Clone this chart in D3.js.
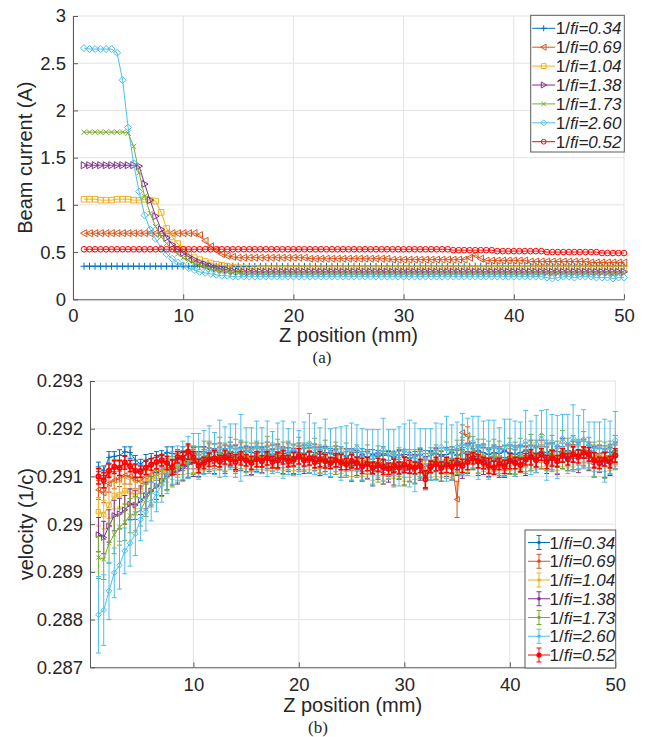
<!DOCTYPE html>
<html>
<head>
<meta charset="utf-8">
<script src="https://cdn.jsdelivr.net/npm/d3@7"></script>
<style>
body { margin: 0; background: #fff; }
svg text { font-family: "Liberation Sans", Arial, Helvetica, sans-serif; fill: #262626; }
</style>
</head>
<body>
<svg id="chart" width="645" height="737"></svg>
<script>
"use strict";

// == DATA ==
// legend order of the seven runs
var fiLabels = ["0.34", "0.69", "1.04", "1.38", "1.73", "2.60", "0.52"];

// z positions (mm), one sample every 0.5 mm
var zPos = d3.range(1, 50.25, 0.5);

// (a) beam current (A)
var current034 = [
	0.35,0.35,0.35,0.35,0.35,0.35,0.35,0.35,0.35,0.35,
	0.35,0.35,0.35,0.35,0.35,0.35,0.35,0.35,0.35,0.35,
	0.35,0.35,0.35,0.35,0.35,0.35,0.35,0.35,0.35,0.35,
	0.35,0.35,0.35,0.35,0.35,0.35,0.35,0.35,0.35,0.35,
	0.35,0.35,0.35,0.35,0.35,0.35,0.35,0.35,0.35,0.35,
	0.35,0.35,0.35,0.35,0.35,0.35,0.35,0.35,0.35,0.35,
	0.35,0.35,0.35,0.35,0.35,0.35,0.35,0.35,0.35,0.35,
	0.35,0.35,0.35,0.35,0.35,0.35,0.35,0.35,0.35,0.35,
	0.35,0.35,0.35,0.35,0.35,0.35,0.35,0.35,0.35,0.35,
	0.35,0.35,0.35,0.35,0.35,0.35,0.35,0.35,0.35];
var current069 = [
	0.70,0.70,0.70,0.70,0.70,0.70,0.70,0.70,0.70,0.70,
	0.70,0.70,0.70,0.70,0.70,0.70,0.70,0.70,0.70,0.70,
	0.70,0.68,0.62,0.56,0.52,0.48,0.46,0.45,0.44,0.44,
	0.44,0.44,0.44,0.44,0.44,0.44,0.44,0.44,0.44,0.44,
	0.44,0.43,0.43,0.43,0.43,0.43,0.43,0.43,0.43,0.43,
	0.43,0.43,0.43,0.43,0.43,0.43,0.42,0.42,0.42,0.42,
	0.42,0.42,0.42,0.42,0.42,0.42,0.42,0.42,0.42,0.42,
	0.44,0.47,0.43,0.41,0.41,0.41,0.41,0.41,0.41,0.41,
	0.41,0.40,0.40,0.40,0.40,0.40,0.40,0.40,0.40,0.40,
	0.40,0.40,0.39,0.39,0.39,0.39,0.39,0.39,0.39];
var current104 = [
	1.06,1.06,1.06,1.05,1.05,1.05,1.06,1.06,1.06,1.05,
	1.05,1.06,1.05,1.04,0.92,0.75,0.66,0.59,0.53,0.48,
	0.44,0.42,0.40,0.385,0.37,0.36,0.35,0.34,0.335,0.33,
	0.33,0.325,0.32,0.32,0.32,0.32,0.32,0.32,0.32,0.32,
	0.32,0.32,0.32,0.32,0.32,0.32,0.32,0.32,0.32,0.32,
	0.32,0.32,0.32,0.32,0.32,0.32,0.32,0.32,0.32,0.32,
	0.32,0.32,0.32,0.32,0.32,0.32,0.32,0.32,0.32,0.32,
	0.32,0.32,0.32,0.32,0.32,0.32,0.32,0.32,0.32,0.32,
	0.32,0.32,0.32,0.32,0.32,0.32,0.32,0.32,0.32,0.32,
	0.32,0.32,0.32,0.32,0.32,0.32,0.32,0.32,0.32];
var current138 = [
	1.42,1.42,1.42,1.42,1.42,1.42,1.42,1.42,1.42,1.42,
	1.41,1.22,1.05,0.88,0.74,0.65,0.58,0.53,0.49,0.45,
	0.42,0.39,0.37,0.35,0.33,0.32,0.31,0.30,0.295,0.29,
	0.29,0.29,0.29,0.29,0.29,0.29,0.29,0.29,0.29,0.29,
	0.29,0.29,0.29,0.29,0.29,0.29,0.29,0.29,0.29,0.29,
	0.29,0.29,0.29,0.29,0.29,0.29,0.29,0.29,0.29,0.29,
	0.29,0.29,0.29,0.29,0.29,0.29,0.29,0.29,0.29,0.29,
	0.29,0.29,0.29,0.29,0.29,0.29,0.29,0.29,0.29,0.29,
	0.29,0.29,0.29,0.29,0.29,0.29,0.29,0.29,0.29,0.29,
	0.29,0.29,0.29,0.29,0.29,0.29,0.29,0.29,0.29];
var current173 = [
	1.77,1.77,1.77,1.77,1.77,1.77,1.77,1.77,1.76,1.62,
	1.34,1.09,0.91,0.77,0.66,0.59,0.53,0.48,0.44,0.41,
	0.38,0.36,0.34,0.32,0.31,0.30,0.29,0.28,0.28,0.27,
	0.27,0.27,0.27,0.27,0.27,0.27,0.27,0.27,0.27,0.27,
	0.27,0.27,0.27,0.27,0.27,0.27,0.27,0.27,0.27,0.27,
	0.27,0.27,0.27,0.27,0.27,0.27,0.27,0.27,0.27,0.27,
	0.27,0.27,0.27,0.27,0.27,0.27,0.27,0.27,0.27,0.27,
	0.27,0.27,0.27,0.27,0.27,0.27,0.27,0.27,0.27,0.27,
	0.27,0.27,0.27,0.27,0.27,0.27,0.27,0.27,0.27,0.27,
	0.27,0.27,0.27,0.27,0.27,0.27,0.27,0.27,0.27];
var current260 = [
	2.66,2.65,2.65,2.65,2.65,2.65,2.61,2.32,1.82,1.44,
	1.14,0.89,0.74,0.64,0.54,0.48,0.43,0.39,0.36,0.33,
	0.31,0.29,0.28,0.27,0.26,0.25,0.25,0.24,0.24,0.24,
	0.24,0.24,0.24,0.24,0.24,0.24,0.24,0.24,0.24,0.24,
	0.24,0.24,0.24,0.24,0.24,0.24,0.24,0.24,0.24,0.24,
	0.24,0.24,0.24,0.24,0.24,0.24,0.24,0.24,0.24,0.24,
	0.24,0.24,0.24,0.24,0.24,0.24,0.24,0.24,0.24,0.24,
	0.24,0.24,0.24,0.24,0.24,0.24,0.24,0.24,0.24,0.24,
	0.24,0.24,0.24,0.24,0.23,0.22,0.23,0.24,0.24,0.23,
	0.24,0.24,0.24,0.23,0.23,0.23,0.22,0.23,0.23];
var current052 = [
	0.53,0.53,0.53,0.53,0.53,0.53,0.53,0.53,0.53,0.53,
	0.53,0.53,0.53,0.53,0.53,0.53,0.53,0.53,0.53,0.53,
	0.53,0.53,0.53,0.53,0.53,0.53,0.53,0.53,0.53,0.53,
	0.53,0.53,0.53,0.53,0.53,0.53,0.53,0.53,0.53,0.53,
	0.53,0.53,0.53,0.53,0.53,0.53,0.53,0.53,0.53,0.53,
	0.53,0.53,0.53,0.53,0.53,0.53,0.53,0.53,0.53,0.53,
	0.53,0.53,0.53,0.53,0.53,0.53,0.53,0.52,0.52,0.52,
	0.52,0.52,0.52,0.52,0.52,0.51,0.51,0.51,0.51,0.51,
	0.51,0.51,0.51,0.51,0.50,0.50,0.50,0.50,0.50,0.50,
	0.50,0.50,0.50,0.50,0.49,0.49,0.49,0.49,0.49];

// (b) velocity (1/c) and its error bars
var vel034 = [
	0.29120,0.29112,0.29140,0.29142,0.29144,0.29152,0.29150,0.29134,0.29126,0.29134,
	0.29138,0.29140,0.29144,0.29150,0.29148,0.29146,0.29150,0.29154,0.29148,0.29150,
	0.29152,0.29148,0.29154,0.29150,0.29146,0.29152,0.29150,0.29148,0.29154,0.29150,
	0.29148,0.29152,0.29150,0.29146,0.29152,0.29148,0.29150,0.29154,0.29150,0.29148,
	0.29152,0.29150,0.29146,0.29150,0.29148,0.29144,0.29148,0.29142,0.29146,0.29140,
	0.29144,0.29140,0.29146,0.29142,0.29148,0.29144,0.29140,0.29146,0.29142,0.29138,
	0.29142,0.29146,0.29140,0.29144,0.29148,0.29142,0.29146,0.29150,0.29144,0.29148,
	0.29152,0.29148,0.29154,0.29150,0.29146,0.29150,0.29148,0.29152,0.29150,0.29146,
	0.29150,0.29154,0.29150,0.29148,0.29152,0.29150,0.29156,0.29152,0.29150,0.29154,
	0.29152,0.29156,0.29150,0.29154,0.29150,0.29148,0.29152,0.29150,0.29154];
var vel069 = [
	0.29072,0.29065,0.29085,0.29092,0.29095,0.29102,0.29100,0.29092,0.29090,0.29100,
	0.29104,0.29110,0.29112,0.29118,0.29120,0.29122,0.29128,0.29134,0.29136,0.29130,
	0.29138,0.29142,0.29136,0.29144,0.29140,0.29146,0.29138,0.29144,0.29140,0.29136,
	0.29142,0.29138,0.29144,0.29140,0.29146,0.29138,0.29142,0.29136,0.29144,0.29140,
	0.29138,0.29144,0.29136,0.29140,0.29134,0.29138,0.29132,0.29136,0.29130,0.29134,
	0.29128,0.29132,0.29126,0.29130,0.29128,0.29122,0.29128,0.29124,0.29130,0.29126,
	0.29124,0.29130,0.29118,0.29128,0.29132,0.29126,0.29136,0.29130,0.29052,0.29192,
	0.29186,0.29150,0.29146,0.29140,0.29136,0.29142,0.29138,0.29134,0.29140,0.29136,
	0.29142,0.29138,0.29146,0.29140,0.29148,0.29142,0.29146,0.29140,0.29150,0.29144,
	0.29148,0.29144,0.29152,0.29146,0.29140,0.29144,0.29138,0.29142,0.29148];
var vel104 = [
	0.29026,0.29020,0.29040,0.29060,0.29062,0.29070,0.29068,0.29060,0.29072,0.29088,
	0.29094,0.29100,0.29108,0.29112,0.29116,0.29122,0.29126,0.29130,0.29134,0.29128,
	0.29136,0.29140,0.29134,0.29142,0.29138,0.29144,0.29136,0.29142,0.29138,0.29134,
	0.29140,0.29136,0.29142,0.29138,0.29144,0.29136,0.29140,0.29134,0.29142,0.29138,
	0.29136,0.29142,0.29134,0.29138,0.29130,0.29136,0.29128,0.29134,0.29126,0.29132,
	0.29124,0.29130,0.29120,0.29126,0.29118,0.29124,0.29120,0.29126,0.29118,0.29122,
	0.29120,0.29126,0.29104,0.29124,0.29128,0.29122,0.29130,0.29126,0.29132,0.29128,
	0.29136,0.29140,0.29134,0.29138,0.29132,0.29138,0.29134,0.29130,0.29138,0.29134,
	0.29140,0.29136,0.29144,0.29138,0.29146,0.29140,0.29144,0.29138,0.29148,0.29142,
	0.29146,0.29142,0.29150,0.29144,0.29138,0.29142,0.29136,0.29140,0.29146];
var vel138 = [
	0.28978,0.28972,0.28996,0.29018,0.29022,0.29030,0.29042,0.29040,0.29050,0.29060,
	0.29070,0.29080,0.29090,0.29100,0.29108,0.29112,0.29118,0.29126,0.29130,0.29126,
	0.29134,0.29140,0.29132,0.29142,0.29136,0.29146,0.29138,0.29142,0.29136,0.29132,
	0.29140,0.29134,0.29144,0.29136,0.29142,0.29134,0.29140,0.29132,0.29142,0.29136,
	0.29134,0.29140,0.29132,0.29136,0.29126,0.29134,0.29124,0.29130,0.29120,0.29128,
	0.29118,0.29126,0.29112,0.29122,0.29114,0.29120,0.29110,0.29124,0.29114,0.29118,
	0.29116,0.29124,0.29108,0.29122,0.29126,0.29118,0.29130,0.29124,0.29130,0.29126,
	0.29138,0.29142,0.29132,0.29136,0.29128,0.29136,0.29130,0.29126,0.29136,0.29132,
	0.29138,0.29132,0.29144,0.29136,0.29146,0.29138,0.29142,0.29134,0.29148,0.29140,
	0.29144,0.29140,0.29150,0.29142,0.29130,0.29136,0.29128,0.29134,0.29144];
var vel173 = [
	0.28930,0.28926,0.28960,0.28978,0.28994,0.29004,0.29018,0.29022,0.29030,0.29050,
	0.29068,0.29080,0.29090,0.29100,0.29110,0.29118,0.29122,0.29130,0.29134,0.29130,
	0.29140,0.29144,0.29136,0.29148,0.29140,0.29150,0.29142,0.29146,0.29140,0.29136,
	0.29144,0.29138,0.29148,0.29140,0.29146,0.29138,0.29144,0.29136,0.29146,0.29140,
	0.29138,0.29146,0.29136,0.29140,0.29130,0.29138,0.29128,0.29134,0.29124,0.29132,
	0.29122,0.29130,0.29116,0.29126,0.29118,0.29124,0.29114,0.29128,0.29118,0.29122,
	0.29120,0.29128,0.29110,0.29126,0.29130,0.29122,0.29134,0.29128,0.29140,0.29150,
	0.29146,0.29150,0.29142,0.29146,0.29136,0.29144,0.29138,0.29134,0.29142,0.29138,
	0.29144,0.29138,0.29150,0.29142,0.29152,0.29144,0.29148,0.29140,0.29156,0.29146,
	0.29150,0.29146,0.29156,0.29148,0.29136,0.29142,0.29134,0.29140,0.29150];
var vel260 = [
	0.28810,0.28820,0.28860,0.28898,0.28914,0.28944,0.28960,0.28980,0.29010,0.29026,
	0.29047,0.29064,0.29082,0.29100,0.29118,0.29128,0.29134,0.29140,0.29148,0.29142,
	0.29150,0.29156,0.29148,0.29158,0.29152,0.29162,0.29154,0.29160,0.29152,0.29156,
	0.29162,0.29154,0.29158,0.29150,0.29160,0.29156,0.29152,0.29158,0.29150,0.29164,
	0.29170,0.29158,0.29154,0.29162,0.29150,0.29156,0.29148,0.29154,0.29152,0.29160,
	0.29146,0.29152,0.29140,0.29148,0.29156,0.29146,0.29150,0.29142,0.29154,0.29148,
	0.29140,0.29150,0.29136,0.29146,0.29152,0.29162,0.29158,0.29150,0.29162,0.29168,
	0.29162,0.29172,0.29160,0.29166,0.29156,0.29162,0.29154,0.29160,0.29168,0.29158,
	0.29164,0.29174,0.29160,0.29168,0.29186,0.29166,0.29172,0.29162,0.29180,0.29168,
	0.29180,0.29172,0.29178,0.29166,0.29156,0.29162,0.29154,0.29160,0.29176];
var vel052 = [
	0.29100,0.29092,0.29112,0.29120,0.29118,0.29129,0.29122,0.29112,0.29110,0.29118,
	0.29125,0.29130,0.29134,0.29128,0.29119,0.29140,0.29138,0.29152,0.29140,0.29122,
	0.29128,0.29135,0.29138,0.29132,0.29140,0.29136,0.29130,0.29138,0.29134,0.29128,
	0.29136,0.29132,0.29138,0.29130,0.29134,0.29140,0.29132,0.29136,0.29142,0.29134,
	0.29138,0.29130,0.29136,0.29132,0.29128,0.29134,0.29130,0.29126,0.29132,0.29128,
	0.29122,0.29126,0.29118,0.29124,0.29120,0.29116,0.29122,0.29118,0.29124,0.29120,
	0.29118,0.29122,0.29094,0.29120,0.29126,0.29118,0.29124,0.29120,0.29126,0.29122,
	0.29130,0.29138,0.29132,0.29128,0.29122,0.29118,0.29126,0.29120,0.29132,0.29128,
	0.29124,0.29136,0.29140,0.29134,0.29146,0.29130,0.29138,0.29132,0.29144,0.29136,
	0.29146,0.29142,0.29150,0.29146,0.29134,0.29128,0.29136,0.29130,0.29144];

var err034 = [
	0.00010,0.00010,0.00012,0.00010,0.00012,0.00010,0.00012,0.00010,0.00010,0.00012,
	0.00010,0.00012,0.00010,0.00012,0.00014,0.00010,0.00012,0.00010,0.00014,0.00012,
	0.00010,0.00012,0.00014,0.00010,0.00012,0.00010,0.00014,0.00012,0.00010,0.00012,
	0.00014,0.00010,0.00012,0.00010,0.00014,0.00012,0.00010,0.00012,0.00014,0.00010,
	0.00012,0.00010,0.00014,0.00012,0.00010,0.00012,0.00014,0.00010,0.00012,0.00010,
	0.00014,0.00012,0.00010,0.00012,0.00014,0.00010,0.00012,0.00010,0.00014,0.00012,
	0.00010,0.00012,0.00014,0.00010,0.00012,0.00010,0.00014,0.00012,0.00010,0.00012,
	0.00014,0.00010,0.00012,0.00010,0.00014,0.00012,0.00010,0.00012,0.00014,0.00010,
	0.00012,0.00010,0.00014,0.00012,0.00010,0.00012,0.00014,0.00010,0.00012,0.00010,
	0.00014,0.00012,0.00010,0.00012,0.00014,0.00010,0.00012,0.00010,0.00012];
var err069 = [
	0.00020,0.00020,0.00018,0.00018,0.00016,0.00018,0.00016,0.00018,0.00016,0.00016,
	0.00016,0.00018,0.00016,0.00018,0.00016,0.00018,0.00016,0.00018,0.00020,0.00016,
	0.00018,0.00016,0.00020,0.00018,0.00016,0.00018,0.00020,0.00016,0.00018,0.00020,
	0.00016,0.00018,0.00020,0.00018,0.00016,0.00020,0.00018,0.00016,0.00018,0.00020,
	0.00016,0.00018,0.00020,0.00018,0.00016,0.00020,0.00018,0.00016,0.00018,0.00020,
	0.00018,0.00020,0.00022,0.00018,0.00020,0.00022,0.00018,0.00020,0.00022,0.00018,
	0.00020,0.00022,0.00018,0.00020,0.00022,0.00018,0.00020,0.00022,0.00038,0.00016,
	0.00018,0.00020,0.00018,0.00020,0.00022,0.00018,0.00020,0.00022,0.00018,0.00020,
	0.00022,0.00018,0.00020,0.00022,0.00018,0.00020,0.00022,0.00018,0.00020,0.00022,
	0.00018,0.00020,0.00022,0.00018,0.00020,0.00022,0.00018,0.00020,0.00022];
var err104 = [
	0.00030,0.00030,0.00028,0.00028,0.00026,0.00028,0.00026,0.00028,0.00026,0.00024,
	0.00026,0.00024,0.00026,0.00024,0.00022,0.00024,0.00022,0.00024,0.00026,0.00022,
	0.00024,0.00026,0.00022,0.00024,0.00026,0.00022,0.00024,0.00026,0.00022,0.00024,
	0.00026,0.00022,0.00024,0.00026,0.00022,0.00024,0.00026,0.00022,0.00024,0.00026,
	0.00022,0.00024,0.00026,0.00022,0.00024,0.00026,0.00022,0.00024,0.00026,0.00022,
	0.00024,0.00026,0.00028,0.00024,0.00026,0.00028,0.00024,0.00026,0.00028,0.00024,
	0.00026,0.00028,0.00030,0.00026,0.00028,0.00024,0.00026,0.00028,0.00024,0.00026,
	0.00028,0.00024,0.00026,0.00028,0.00024,0.00026,0.00028,0.00024,0.00026,0.00028,
	0.00024,0.00026,0.00028,0.00024,0.00026,0.00028,0.00024,0.00026,0.00028,0.00024,
	0.00026,0.00028,0.00024,0.00026,0.00028,0.00024,0.00026,0.00028,0.00024];
var err138 = [
	0.00036,0.00034,0.00034,0.00032,0.00032,0.00030,0.00032,0.00030,0.00030,0.00028,
	0.00030,0.00028,0.00030,0.00028,0.00026,0.00028,0.00026,0.00028,0.00030,0.00026,
	0.00028,0.00030,0.00026,0.00028,0.00030,0.00026,0.00028,0.00030,0.00026,0.00028,
	0.00030,0.00026,0.00028,0.00030,0.00026,0.00028,0.00030,0.00026,0.00028,0.00030,
	0.00026,0.00028,0.00030,0.00026,0.00028,0.00030,0.00026,0.00028,0.00030,0.00026,
	0.00028,0.00030,0.00032,0.00028,0.00030,0.00032,0.00028,0.00030,0.00032,0.00028,
	0.00030,0.00032,0.00034,0.00030,0.00032,0.00028,0.00030,0.00032,0.00028,0.00030,
	0.00032,0.00028,0.00030,0.00032,0.00028,0.00030,0.00032,0.00028,0.00030,0.00032,
	0.00028,0.00030,0.00032,0.00028,0.00030,0.00032,0.00028,0.00030,0.00032,0.00028,
	0.00030,0.00032,0.00028,0.00030,0.00032,0.00028,0.00030,0.00032,0.00028];
var err173 = [
	0.00044,0.00042,0.00042,0.00040,0.00038,0.00038,0.00036,0.00036,0.00034,0.00034,
	0.00032,0.00034,0.00032,0.00030,0.00032,0.00030,0.00032,0.00034,0.00030,0.00032,
	0.00034,0.00030,0.00032,0.00034,0.00030,0.00032,0.00036,0.00030,0.00032,0.00034,
	0.00030,0.00032,0.00036,0.00030,0.00032,0.00034,0.00030,0.00032,0.00036,0.00030,
	0.00032,0.00034,0.00030,0.00036,0.00032,0.00034,0.00030,0.00036,0.00032,0.00034,
	0.00030,0.00036,0.00032,0.00038,0.00034,0.00030,0.00036,0.00032,0.00038,0.00034,
	0.00036,0.00032,0.00038,0.00034,0.00036,0.00032,0.00038,0.00034,0.00036,0.00032,
	0.00038,0.00034,0.00036,0.00032,0.00038,0.00034,0.00036,0.00032,0.00038,0.00034,
	0.00036,0.00032,0.00038,0.00034,0.00036,0.00032,0.00038,0.00034,0.00040,0.00034,
	0.00036,0.00032,0.00038,0.00034,0.00036,0.00032,0.00038,0.00034,0.00036];
var err260 = [
	0.00080,0.00074,0.00060,0.00052,0.00050,0.00048,0.00048,0.00046,0.00044,0.00040,
	0.00040,0.00038,0.00036,0.00036,0.00034,0.00036,0.00040,0.00044,0.00042,0.00048,
	0.00046,0.00050,0.00044,0.00060,0.00052,0.00048,0.00056,0.00070,0.00050,0.00046,
	0.00054,0.00048,0.00058,0.00044,0.00052,0.00060,0.00048,0.00056,0.00046,0.00050,
	0.00062,0.00054,0.00048,0.00058,0.00050,0.00046,0.00056,0.00052,0.00060,0.00048,
	0.00054,0.00046,0.00058,0.00050,0.00066,0.00052,0.00048,0.00062,0.00056,0.00070,
	0.00072,0.00050,0.00064,0.00054,0.00060,0.00048,0.00068,0.00058,0.00052,0.00064,
	0.00060,0.00054,0.00066,0.00050,0.00062,0.00056,0.00048,0.00060,0.00052,0.00058,
	0.00050,0.00064,0.00056,0.00060,0.00052,0.00074,0.00058,0.00066,0.00050,0.00062,
	0.00070,0.00056,0.00062,0.00048,0.00058,0.00052,0.00066,0.00056,0.00060];
var err052 = [
	0.00016,0.00016,0.00014,0.00014,0.00016,0.00014,0.00012,0.00014,0.00012,0.00014,
	0.00012,0.00014,0.00012,0.00014,0.00016,0.00012,0.00014,0.00016,0.00012,0.00014,
	0.00012,0.00014,0.00016,0.00012,0.00014,0.00012,0.00016,0.00014,0.00012,0.00014,
	0.00016,0.00012,0.00014,0.00012,0.00016,0.00014,0.00012,0.00014,0.00016,0.00012,
	0.00014,0.00012,0.00016,0.00014,0.00012,0.00014,0.00016,0.00012,0.00014,0.00012,
	0.00016,0.00014,0.00012,0.00014,0.00016,0.00012,0.00014,0.00012,0.00016,0.00014,
	0.00012,0.00014,0.00018,0.00012,0.00014,0.00012,0.00016,0.00014,0.00012,0.00014,
	0.00016,0.00012,0.00014,0.00012,0.00016,0.00014,0.00012,0.00014,0.00016,0.00012,
	0.00014,0.00012,0.00016,0.00014,0.00012,0.00014,0.00016,0.00012,0.00014,0.00012,
	0.00016,0.00014,0.00012,0.00014,0.00016,0.00012,0.00014,0.00012,0.00014];

var currentTicks = [0, 0.5, 1, 1.5, 2, 2.5, 3];
var velocityTicks = [0.287, 0.288, 0.289, 0.29, 0.291, 0.292, 0.293];
var zTicksA = [0, 10, 20, 30, 40, 50];
var zTicksB = [10, 20, 30, 40, 50];

var currents = [current034, current069, current104, current138, current173, current260, current052];
var velocities = [vel034, vel069, vel104, vel138, vel173, vel260, vel052];
var velErrors = [err034, err069, err104, err138, err173, err260, err052];

// == STYLE ==
var colors = ["#0072BD", "#D95319", "#EDB120", "#7E2F8E", "#77AC30", "#4DBEEE", "#FF0000"];
var markers = ["plus", "triLeft", "square", "triRight", "cross", "diamond", "circle"];
var axisColor = "#5a5a5a",
	gridColor = "#e3e3e3";

var svg = d3.select("#chart");

// marker shapes, roughly the matlab ones
function markerPath(type, s) {
	var t;
	switch (type) {
		case "plus": return "M" + (-s) + ",0H" + s + "M0," + (-s) + "V" + s;
		case "cross": t = s * 0.75; return "M" + (-t) + "," + (-t) + "L" + t + "," + t + "M" + (-t) + "," + t + "L" + t + "," + (-t);
		case "square": t = s * 0.8; return "M" + (-t) + "," + (-t) + "H" + t + "V" + t + "H" + (-t) + "Z";
		case "diamond": return "M0," + (-s) + "L" + s + ",0L0," + s + "L" + (-s) + ",0Z";
		case "triLeft": return "M" + (-s) + ",0L" + (s * 0.8) + "," + (-s) + "L" + (s * 0.8) + "," + s + "Z";
		case "triRight": return "M" + s + ",0L" + (-s * 0.8) + "," + (-s) + "L" + (-s * 0.8) + "," + s + "Z";
		default: t = s * 0.8; return "M" + (-t) + ",0A" + t + "," + t + " 0 1,0 " + t + ",0A" + t + "," + t + " 0 1,0 " + (-t) + ",0Z";
	}
}

// grid + axes for one panel
function drawFrame(x, y, xTicks, yTicks, padX, padY) {
	var g = svg.append("g");
	var x0 = x.range()[0], x1 = x.range()[1], y0 = y.range()[0], y1 = y.range()[1];
	g.selectAll(".gx").data(xTicks).enter().append("line")
		.attr("x1", d => x(d)).attr("x2", d => x(d))
		.attr("y1", y0).attr("y2", y1)
		.attr("stroke", gridColor);
	g.selectAll(".gy").data(yTicks).enter().append("line")
		.attr("x1", x0).attr("x2", x1)
		.attr("y1", d => y(d)).attr("y2", d => y(d))
		.attr("stroke", gridColor);

	var fmt = d3.format("~g");
	var ax = g.append("g").attr("transform", "translate(0," + y0 + ")")
		.call(d3.axisBottom(x).tickValues(xTicks).tickFormat(fmt).tickSize(-5).tickSizeOuter(0).tickPadding(padX));
	var ay = g.append("g").attr("transform", "translate(" + x0 + ",0)")
		.call(d3.axisLeft(y).tickValues(yTicks).tickFormat(fmt).tickSize(-5).tickSizeOuter(0).tickPadding(padY));
	[ax, ay].forEach(function (a) {
		a.select(".domain").attr("stroke", axisColor);
		a.selectAll(".tick line").attr("stroke", axisColor);
		a.selectAll("text").attr("font-size", "18.5px")
			.attr("font-family", "'Liberation Sans', Arial, sans-serif").attr("fill", "#262626");
	});
}

function legendLabel(sel, label) {
	sel.append("tspan").text("1/");
	sel.append("tspan").attr("font-style", "italic").text("fi=" + label);
}

// ================= (a) beam current =================
var xA = d3.scaleLinear().domain([0, 50]).range([73, 624]);
var yA = d3.scaleLinear().domain([0, 3]).range([299.3, 16]);
drawFrame(xA, yA, zTicksA, currentTicks, 9.5, 7);

var lineA = d3.line().x((d, i) => xA(zPos[i])).y(d => yA(d));
currents.forEach(function (vals, k) {
	var g = svg.append("g");
	g.append("path").attr("d", lineA(vals)).attr("fill", "none")
		.attr("stroke", colors[k]).attr("stroke-width", 1);
	g.selectAll("path.m").data(vals).enter().append("path")
		.attr("class", "m")
		.attr("transform", (d, i) => "translate(" + xA(zPos[i]) + "," + yA(d) + ")")
		.attr("d", markerPath(markers[k], 3.5))
		.attr("fill", "none").attr("stroke", colors[k]).attr("stroke-width", 1);
});

svg.append("text").attr("transform", "translate(32," + ((16 + 299.3) / 2) + ") rotate(-90)")
	.attr("text-anchor", "middle").attr("font-size", "20px").text("Beam current (A)");
svg.append("text").attr("x", (73 + 624) / 2).attr("y", 342)
	.attr("text-anchor", "middle").attr("font-size", "20px").text("Z position (mm)");
svg.append("text").attr("x", 322).attr("y", 363).attr("text-anchor", "middle")
	.attr("font-size", "17px").style("font-family", "'Liberation Serif', 'Times New Roman', serif").text("(a)");

// legend (a)
var legA = svg.append("g").attr("transform", "translate(530.7,15.3)");
legA.append("rect").attr("width", 93.6).attr("height", 136.7)
	.attr("fill", "#fff").attr("stroke", axisColor).attr("stroke-width", 1);
fiLabels.forEach(function (lab, k) {
	var cy = 13 + k * 18.9;
	legA.append("line").attr("x1", 1.5).attr("x2", 24.5).attr("y1", cy).attr("y2", cy)
		.attr("stroke", colors[k]);
	legA.append("path").attr("transform", "translate(13," + cy + ")")
		.attr("d", markerPath(markers[k], 3)).attr("fill", "none").attr("stroke", colors[k]);
	legA.append("text").attr("x", 25).attr("y", cy + 6).attr("font-size", "17px")
		.call(legendLabel, lab);
});

// ================= (b) velocity =================
var xB = d3.scaleLinear().domain([0.2, 50]).range([90, 615.3]);
var yB = d3.scaleLinear().domain([0.287, 0.293]).range([667.3, 381]);
drawFrame(xB, yB, zTicksB, velocityTicks, 10.5, 7);

var lineB = d3.line().x((d, i) => xB(zPos[i])).y(d => yB(d));
velocities.forEach(function (vals, k) {
	var g = svg.append("g");
	var errs = velErrors[k];
	var w = k === 6 ? 1.6 : 1;
	g.selectAll("path.eb").data(vals).enter().append("path")
		.attr("class", "eb")
		.attr("d", function (d, i) {
			var cx = xB(zPos[i]), ylo = yB(d - errs[i]), yhi = yB(d + errs[i]);
			return "M" + cx + "," + ylo + "V" + yhi +
				"M" + (cx - 2.5) + "," + ylo + "H" + (cx + 2.5) +
				"M" + (cx - 2.5) + "," + yhi + "H" + (cx + 2.5);
		})
		.attr("fill", "none").attr("stroke", colors[k]).attr("stroke-width", w);
	g.append("path").attr("d", lineB(vals)).attr("fill", "none")
		.attr("stroke", colors[k]).attr("stroke-width", w);
	g.selectAll("path.m").data(vals).enter().append("path")
		.attr("class", "m")
		.attr("transform", (d, i) => "translate(" + xB(zPos[i]) + "," + yB(d) + ")")
		.attr("d", markerPath(markers[k], 2.8))
		.attr("fill", "none").attr("stroke", colors[k]).attr("stroke-width", w);
});

svg.append("text").attr("transform", "translate(33," + ((381 + 667.3) / 2) + ") rotate(-90)")
	.attr("text-anchor", "middle").attr("font-size", "20px").text("velocity (1/c)");
svg.append("text").attr("x", (90 + 615.3) / 2).attr("y", 712)
	.attr("text-anchor", "middle").attr("font-size", "20px").text("Z position (mm)");
svg.append("text").attr("x", 318).attr("y", 733).attr("text-anchor", "middle")
	.attr("font-size", "17px").style("font-family", "'Liberation Serif', 'Times New Roman', serif").text("(b)");

// legend (b)
var legB = svg.append("g").attr("transform", "translate(525,530)");
legB.append("rect").attr("width", 90.7).attr("height", 138)
	.attr("fill", "#fff").attr("stroke", axisColor).attr("stroke-width", 1);
fiLabels.forEach(function (lab, k) {
	var cy = 12.5 + k * 18.75;
	var col = colors[k];
	legB.append("line").attr("x1", 3).attr("x2", 25).attr("y1", cy).attr("y2", cy).attr("stroke", col);
	legB.append("path")
		.attr("d", "M14," + (cy - 7) + "V" + (cy + 7) + "M11.5," + (cy - 7) + "H16.5M11.5," + (cy + 7) + "H16.5")
		.attr("stroke", col).attr("fill", "none");
	legB.append("circle").attr("cx", 14).attr("cy", cy).attr("r", k === 6 ? 2.6 : 1.8).attr("fill", col);
	legB.append("text").attr("x", 24.5).attr("y", cy + 6).attr("font-size", "17px")
		.call(legendLabel, lab);
});
</script>
</body>
</html>
